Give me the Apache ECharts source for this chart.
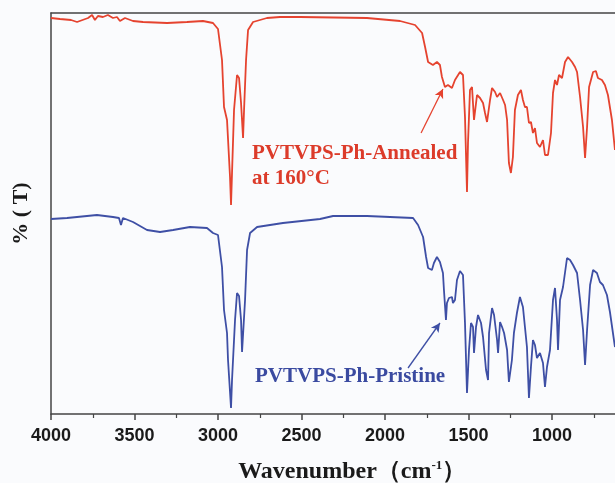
<!DOCTYPE html>
<html>
<head>
<meta charset="utf-8">
<script src="https://cdn.jsdelivr.net/npm/echarts@6/dist/echarts.min.js"></script>
<style>
  html, body { margin: 0; padding: 0; background: #fafbfd; }
  #chart { width: 615px; height: 483px; }
</style>
</head>
<body>
<div id="chart"></div>
<script>
// FTIR spectra, [wavenumber (cm^-1), transmittance (arb. units)]
const annealed = [
  [4000,396],[3946,395],[3880,394],[3844,392],[3778,396],[3754,399],[3737,394],[3719,398],
  [3689,397],[3659,399],[3629,396],[3605,397],[3587,393],[3557,396],[3509,393],[3449,392],
  [3305,391],[3186,392],[3090,393],[3030,391],[3000,385],[2976,354],[2964,307],[2946,294],
  [2940,294],[2928,237],[2922,209],[2916,241],[2904,304],[2886,339],[2874,336],[2862,311],
  [2850,276],[2844,304],[2832,354],[2820,384],[2790,392],[2707,396],[2629,397],[2509,397],
  [2108,396],[1910,393],[1820,389],[1778,381],[1760,367],[1742,352],[1713,349],[1689,352],
  [1671,349],[1659,337],[1641,327],[1623,329],[1599,326],[1581,334],[1551,342],[1533,339],
  [1521,297],[1509,222],[1503,271],[1491,324],[1479,327],[1467,294],[1449,319],[1431,316],
  [1413,311],[1401,301],[1389,292],[1371,314],[1359,326],[1341,322],[1329,317],[1311,321],
  [1293,314],[1281,309],[1269,294],[1258,251],[1246,241],[1234,257],[1222,304],[1204,319],
  [1186,324],[1174,314],[1162,307],[1150,307],[1138,291],[1126,292],[1114,281],[1102,286],
  [1090,271],[1072,267],[1054,274],[1042,259],[1024,259],[1006,281],[994,321],[982,334],
  [970,329],[958,339],[940,336],[922,352],[904,357],[880,352],[862,347],[850,342],
  [832,317],[814,287],[802,256],[790,287],[778,327],[754,342],[737,343],[725,336],
  [701,334],[683,329],[665,319],[641,294],[623,264]
];

const pristine = [
  [4000,195],[3904,196],[3725,199],[3629,197],[3593,196],[3581,189],[3569,196],[3509,192],
  [3425,184],[3347,182],[3269,184],[3168,187],[3066,186],[3030,181],[3000,179],[2976,147],
  [2964,104],[2946,81],[2940,54],[2922,6],[2916,34],[2898,94],[2886,121],[2874,118],
  [2862,94],[2856,62],[2850,61],[2838,114],[2826,164],[2808,181],[2766,187],[2611,191],
  [2389,195],[2311,198],[2108,198],[1832,196],[1802,189],[1772,177],[1754,157],[1742,146],
  [1719,144],[1707,151],[1689,157],[1671,152],[1653,141],[1647,124],[1635,94],[1629,111],
  [1617,116],[1599,117],[1593,111],[1581,114],[1569,134],[1551,143],[1533,139],[1521,91],
  [1509,21],[1497,64],[1485,91],[1473,87],[1467,61],[1455,87],[1443,99],[1425,91],
  [1413,77],[1395,44],[1383,34],[1377,81],[1359,106],[1347,99],[1329,74],[1323,61],
  [1311,92],[1299,87],[1287,81],[1269,64],[1258,32],[1240,54],[1228,81],[1210,101],
  [1192,117],[1174,107],[1162,87],[1150,67],[1138,16],[1126,47],[1114,74],[1102,69],
  [1090,56],[1072,61],[1054,51],[1042,27],[1030,47],[1012,64],[994,114],[982,126],
  [970,94],[964,64],[952,114],[934,127],[910,156],[892,154],[874,149],[850,141],
  [832,114],[814,84],[802,49],[790,84],[772,129],[754,144],[731,141],[713,132],
  [695,129],[671,119],[653,102],[623,67]
];

// Annotation arrows: [tail, head] in data coordinates
const annealedArrow = [[1784,281],[1653,325]];
const pristineArrow = [[1862,46],[1671,91]];

// X axis range and tick step (the 500 end runs past the right edge of the page)
const xMin = 500;
const xMax = 4000;
const xStep = 500;

const RED = '#e5432f';
const BLUE = '#3e4fa5';
const SERIF = '"Liberation Serif", "Times New Roman", serif';
const SANS = '"Liberation Sans", Arial, sans-serif';

const chart = echarts.init(document.getElementById('chart'));

function arrowLine(pts, color) {
  return {
    silent: true,
    symbol: ['none', 'arrow'],
    symbolSize: [7, 9],
    label: { show: false },
    lineStyle: { color: color, width: 1.3, type: 'solid' },
    emphasis: { disabled: true },
    data: [[{ coord: pts[0] }, { coord: pts[1] }]]
  };
}

chart.setOption({
  backgroundColor: '#fafbfd',
  animation: false,
  grid: { left: 51, right: -20.5, top: 13, bottom: 69, containLabel: false, outerBoundsMode: 'none' },
  xAxis: [
    {
      type: 'value',
      inverse: true,
      min: xMin,
      max: xMax,
      interval: xStep,
      position: 'bottom',
      axisLine: { lineStyle: { color: '#444', width: 1.5 } },
      axisTick: { show: true, length: 6, lineStyle: { color: '#444', width: 1.5 } },
      minorTick: { show: true, splitNumber: 2, length: 4, lineStyle: { color: '#444', width: 1.2 } },
      splitLine: { show: false },
      axisLabel: {
        margin: 13,
        formatter: function (v) { return String(v); },
        fontFamily: SANS, fontWeight: 'bold', fontSize: 18, color: '#1a1a1a'
      },
      name: '{a|Wavenumber（cm}{s|-1}{a|）}',
      nameLocation: 'middle',
      nameGap: 45,
      nameTextStyle: {
        padding: [0, 0, 0, 18],
        rich: {
          a: { fontFamily: SERIF, fontWeight: 'bold', fontSize: 24, color: '#1a1a1a' },
          s: { fontFamily: SERIF, fontWeight: 'bold', fontSize: 13, color: '#1a1a1a', verticalAlign: 'top', padding: [0, 0, 12, 0] }
        }
      }
    },
    {
      type: 'value',
      inverse: true,
      min: xMin,
      max: xMax,
      position: 'top',
      axisLine: { lineStyle: { color: '#444', width: 1.5 } },
      axisTick: { show: false },
      axisLabel: { show: false },
      splitLine: { show: false }
    }
  ],
  yAxis: {
    type: 'value',
    min: 0,
    max: 401,
    axisLine: { show: true, lineStyle: { color: '#444', width: 1.5 } },
    axisTick: { show: false },
    axisLabel: { show: false },
    splitLine: { show: false },
    name: '% ( T)',
    nameLocation: 'middle',
    nameGap: 19,
    nameRotate: 90,
    nameTextStyle: { fontFamily: SERIF, fontWeight: 'bold', fontSize: 22, color: '#1a1a1a', padding: [0, 0, 0, 0] }
  },
  series: [
    {
      name: 'PVTVPS-Ph-Annealed at 160°C',
      type: 'line',
      data: annealed,
      showSymbol: false,
      lineStyle: { color: RED, width: 1.8 },
      markLine: arrowLine(annealedArrow, RED)
    },
    {
      name: 'PVTVPS-Ph-Pristine',
      type: 'line',
      data: pristine,
      showSymbol: false,
      lineStyle: { color: BLUE, width: 1.8 },
      markLine: arrowLine(pristineArrow, BLUE)
    }
  ],
  graphic: [
    { type: 'text', x: 252, y: 154, style: { text: 'PVTVPS-Ph-Annealed', font: 'bold 21px ' + SERIF, fill: '#dc3b2a', textVerticalAlign: 'middle' } },
    { type: 'text', x: 252, y: 179, style: { text: 'at 160°C', font: 'bold 21px ' + SERIF, fill: '#dc3b2a', textVerticalAlign: 'middle' } },
    { type: 'text', x: 255, y: 377, style: { text: 'PVTVPS-Ph-Pristine', font: 'bold 21px ' + SERIF, fill: '#3a4aa0', textVerticalAlign: 'middle' } }
  ]
});
</script>
</body>
</html>
